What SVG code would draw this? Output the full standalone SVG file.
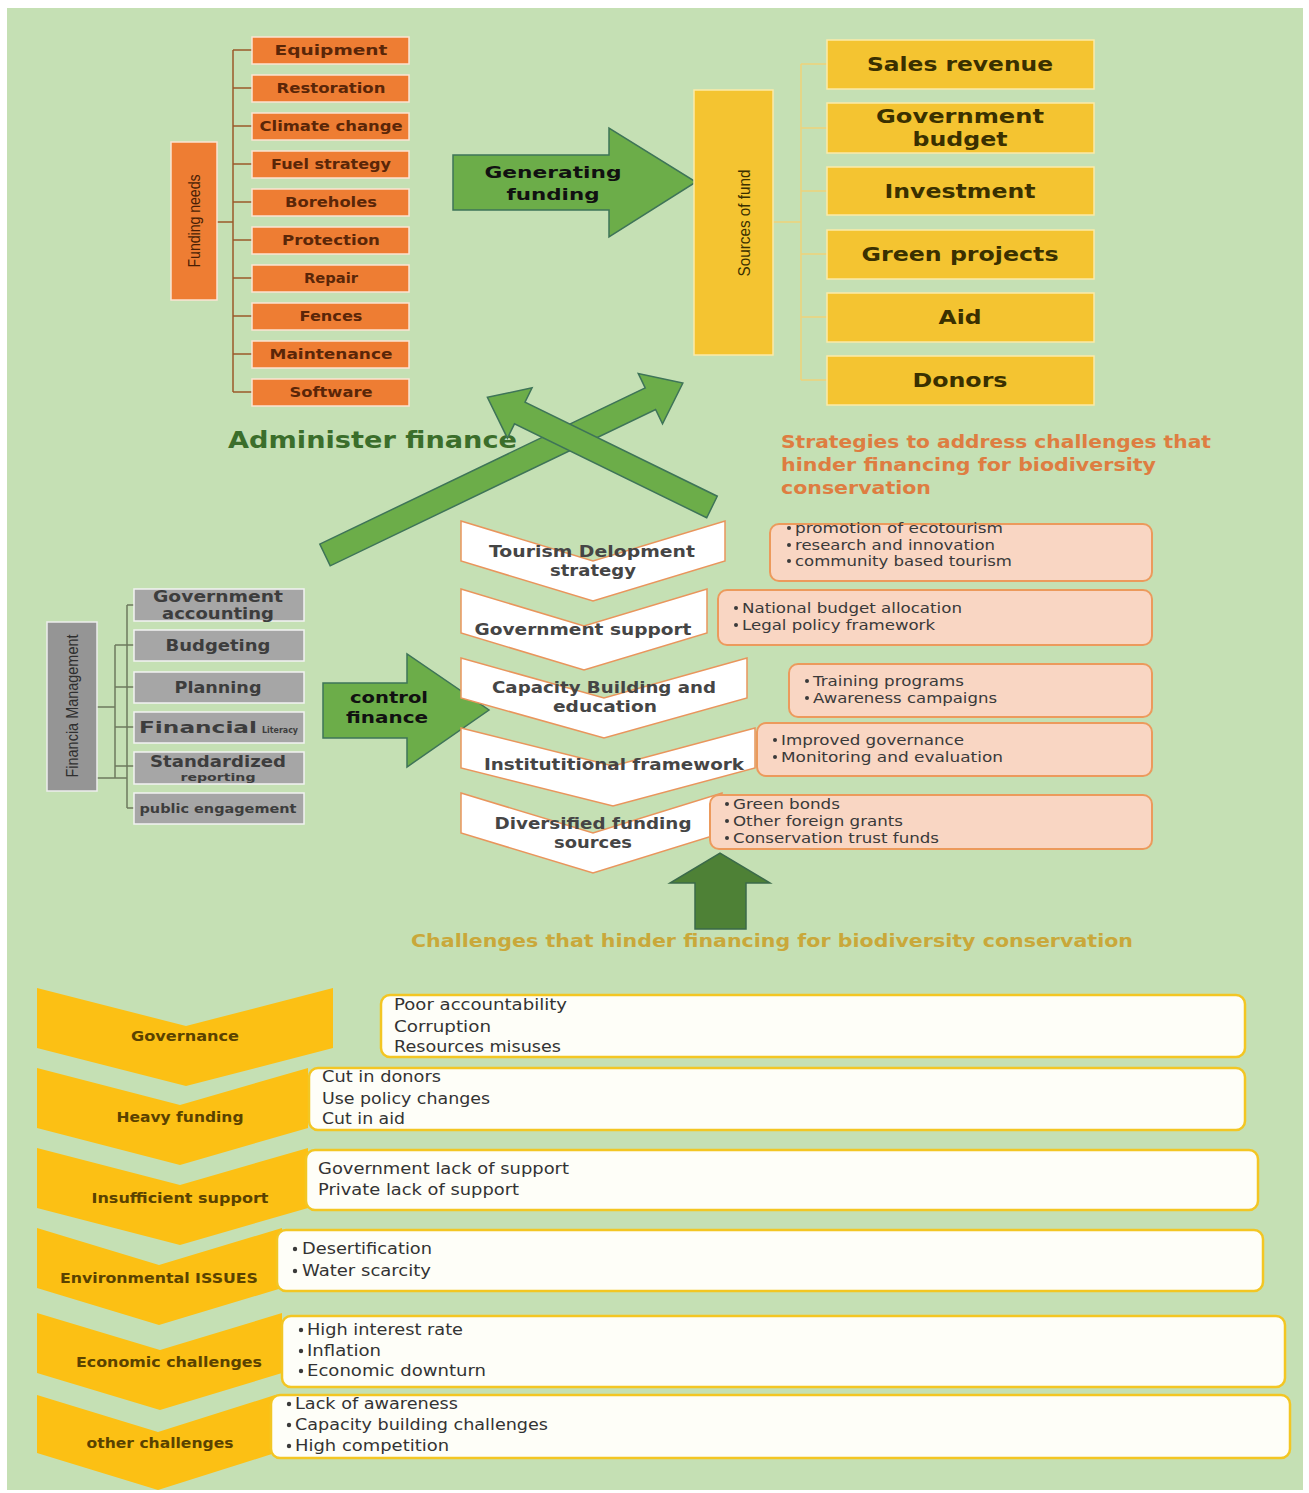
<svg xmlns="http://www.w3.org/2000/svg" width="1309" height="1493" viewBox="0 0 1309 1493">
  <style>
    .need{fill:#EE7D33;stroke:#FBE3D2;stroke-width:1.5}
    .needt{font-family:"DejaVu Sans",sans-serif;font-weight:bold;font-size:14px;fill:#5A2608;text-anchor:middle}
    .src{fill:#F4C431;stroke:#FBEAA8;stroke-width:1.5}
    .srct{font-family:"DejaVu Sans",sans-serif;font-weight:bold;font-size:19px;fill:#3A3000;text-anchor:middle}
    .vert{font-family:"Liberation Sans",sans-serif;font-size:17px;text-anchor:middle}
    .fm{fill:#A6A6A6;stroke:#F2F2F2;stroke-width:1.5}
    .fmt{font-family:"DejaVu Sans",sans-serif;font-weight:bold;font-size:15px;fill:#3D3D3D;text-anchor:middle}
    .arrow{fill:#6CAD49;stroke:#3E7458;stroke-width:1.5}
    .arrowt{font-family:"DejaVu Sans",sans-serif;font-weight:bold;font-size:15px;fill:#111;text-anchor:middle}
    .chev{fill:#FFFFFF;stroke:#E9955C;stroke-width:1.5}
    .chevt{font-family:"DejaVu Sans",sans-serif;font-weight:bold;font-size:15px;fill:#454545;text-anchor:middle}
    .sbox{fill:#F9D6C3;stroke:#EC9A5C;stroke-width:2}
    .sboxt{font-family:"DejaVu Sans",sans-serif;font-size:13.5px;fill:#3A3A3A}
    .dot{fill:#3A3A3A}
    .ychev{fill:#FCC014}
    .ychevt{font-family:"DejaVu Sans",sans-serif;font-weight:bold;font-size:14.5px;fill:#5A4200;text-anchor:middle}
    .cbox{fill:#FEFEF8;stroke:#F3C623;stroke-width:2.5}
    .cboxt{font-family:"DejaVu Sans",sans-serif;font-size:15px;fill:#333333}
    .title{font-family:"DejaVu Sans",sans-serif;font-weight:bold;font-size:17px}
    .tick{fill:none;stroke-width:1.5}
  </style>

  <!-- page -->
  <rect x="0" y="0" width="1309" height="1493" fill="#FFFFFF"/>
  <rect x="7" y="8" width="1296" height="1482" fill="#C5E0B4"/>

  <!-- headings -->
  <g id="headings">
    <text x="228" y="448" textLength="289" lengthAdjust="spacingAndGlyphs" font-family="DejaVu Sans, sans-serif" font-weight="bold" font-size="23" fill="#3B6E2B">Administer finance</text>
    <text class="title" x="781" y="448" textLength="430" lengthAdjust="spacingAndGlyphs" fill="#DE7D41">Strategies to address challenges that</text>
    <text class="title" x="781" y="471" textLength="375" lengthAdjust="spacingAndGlyphs" fill="#DE7D41">hinder financing for biodiversity</text>
    <text class="title" x="781" y="494" textLength="150" lengthAdjust="spacingAndGlyphs" fill="#DE7D41">conservation</text>
    <text class="title" x="411" y="947" textLength="722" lengthAdjust="spacingAndGlyphs" fill="#C9A83A">Challenges that hinder financing for biodiversity conservation</text>
  </g>

  <!-- connectors: brackets and arrows -->
  <g id="connectors">
    <!-- funding needs bracket -->
    <g class="tick" stroke="#9A5A2A">
      <path d="M217 222H233M233 50V392"/>
      <path d="M233 50H252M233 88H252M233 126H252M233 164H252M233 202H252M233 240H252M233 278H252M233 316H252M233 354H252M233 392H252"/>
    </g>
    <!-- sources bracket -->
    <g class="tick" stroke="#EED27A">
      <path d="M773 222H801M801 64V380"/>
      <path d="M801 64H827M801 128H827M801 191H827M801 254H827M801 317H827M801 380H827"/>
    </g>
    <!-- financial management bracket -->
    <g class="tick" stroke="#6E7A5E">
      <path d="M97 707H115M115 645V778M97 778H127M127 605V808"/>
      <path d="M127 605H135M115 645H135M115 687H135M115 727H135M115 766H135M127 808H135"/>
    </g>

    <!-- generating funding -->
    <g id="arrow-generating">
      <polygon class="arrow" points="453,155 609,155 609,128 696,182 609,237 609,210 453,210"/>
      <text class="arrowt" x="553" y="178" textLength="137" lengthAdjust="spacingAndGlyphs">Generating</text>
      <text class="arrowt" x="553" y="200" textLength="93" lengthAdjust="spacingAndGlyphs">funding</text>
    </g>
    <!-- control finance -->
    <g id="arrow-control">
      <polygon class="arrow" points="323,683 407,683 407,654 489,710 407,767 407,738 323,738"/>
      <text class="arrowt" x="389" y="703" textLength="78" lengthAdjust="spacingAndGlyphs">control</text>
      <text class="arrowt" x="387" y="723" textLength="82" lengthAdjust="spacingAndGlyphs">finance</text>
    </g>
    <!-- crossing arrows -->
    <polygon id="arrow-up-right" class="arrow" transform="translate(325,555) rotate(-25.66)" points="0,-12 361,-12 361,-28 397,0 361,28 361,12 0,12"/>
    <polygon id="arrow-up-left" class="arrow" transform="translate(712,507) rotate(-153.95)" points="0,-12 214,-12 214,-28 250,0 214,28 214,12 0,12"/>
    <!-- challenges feed strategies -->
    <polygon id="arrow-up" points="695,929 746,929 746,883 770,883 720,853 670,883 695,883" fill="#4E8136" stroke="#3B6A4A" stroke-width="1.5"/>
  </g>

  <!-- funding needs -->
  <g id="funding-needs">
    <rect class="need" x="171" y="142" width="46" height="158"/>
    <text class="vert" transform="translate(200,221) rotate(-90)" textLength="93" lengthAdjust="spacingAndGlyphs" fill="#4A1F05">Funding needs</text>
  </g>
  <g id="need-equipment"><rect class="need" x="252" y="37" width="157" height="27"/><text class="needt" x="331" y="55" textLength="113" lengthAdjust="spacingAndGlyphs">Equipment</text></g>
  <g id="need-restoration"><rect class="need" x="252" y="75" width="157" height="27"/><text class="needt" x="331" y="93" textLength="109" lengthAdjust="spacingAndGlyphs">Restoration</text></g>
  <g id="need-climate"><rect class="need" x="252" y="113" width="157" height="27"/><text class="needt" x="331" y="131" textLength="143" lengthAdjust="spacingAndGlyphs">Climate change</text></g>
  <g id="need-fuel"><rect class="need" x="252" y="151" width="157" height="27"/><text class="needt" x="331" y="169" textLength="120" lengthAdjust="spacingAndGlyphs">Fuel strategy</text></g>
  <g id="need-boreholes"><rect class="need" x="252" y="189" width="157" height="27"/><text class="needt" x="331" y="207" textLength="92" lengthAdjust="spacingAndGlyphs">Boreholes</text></g>
  <g id="need-protection"><rect class="need" x="252" y="227" width="157" height="27"/><text class="needt" x="331" y="245" textLength="98" lengthAdjust="spacingAndGlyphs">Protection</text></g>
  <g id="need-repair"><rect class="need" x="252" y="265" width="157" height="27"/><text class="needt" x="331" y="283" textLength="54" lengthAdjust="spacingAndGlyphs">Repair</text></g>
  <g id="need-fences"><rect class="need" x="252" y="303" width="157" height="27"/><text class="needt" x="331" y="321" textLength="63" lengthAdjust="spacingAndGlyphs">Fences</text></g>
  <g id="need-maintenance"><rect class="need" x="252" y="341" width="157" height="27"/><text class="needt" x="331" y="359" textLength="123" lengthAdjust="spacingAndGlyphs">Maintenance</text></g>
  <g id="need-software"><rect class="need" x="252" y="379" width="157" height="27"/><text class="needt" x="331" y="397" textLength="83" lengthAdjust="spacingAndGlyphs">Software</text></g>

  <!-- sources of fund -->
  <g id="sources-of-fund">
    <rect class="src" x="694" y="90" width="79" height="265"/>
    <text class="vert" transform="translate(750,223) rotate(-90)" textLength="107" lengthAdjust="spacingAndGlyphs" font-size="18" fill="#3A3000">Sources of fund</text>
  </g>
  <g id="src-sales"><rect class="src" x="827" y="40" width="267" height="49"/><text class="srct" x="960" y="71" textLength="186" lengthAdjust="spacingAndGlyphs">Sales revenue</text></g>
  <g id="src-government"><rect class="src" x="827" y="103" width="267" height="50"/><text class="srct" x="960" y="123" textLength="168" lengthAdjust="spacingAndGlyphs">Government</text><text class="srct" x="960" y="146" textLength="95" lengthAdjust="spacingAndGlyphs">budget</text></g>
  <g id="src-investment"><rect class="src" x="827" y="167" width="267" height="48"/><text class="srct" x="960" y="198" textLength="151" lengthAdjust="spacingAndGlyphs">Investment</text></g>
  <g id="src-green"><rect class="src" x="827" y="230" width="267" height="49"/><text class="srct" x="960" y="261" textLength="197" lengthAdjust="spacingAndGlyphs">Green projects</text></g>
  <g id="src-aid"><rect class="src" x="827" y="293" width="267" height="49"/><text class="srct" x="960" y="324" textLength="43" lengthAdjust="spacingAndGlyphs">Aid</text></g>
  <g id="src-donors"><rect class="src" x="827" y="356" width="267" height="49"/><text class="srct" x="960" y="387" textLength="95" lengthAdjust="spacingAndGlyphs">Donors</text></g>

  <!-- financial management -->
  <g id="financial-management">
    <rect x="47" y="622" width="50" height="169" fill="#959595" stroke="#EDEDED" stroke-width="1.5"/>
    <text class="vert" transform="translate(78,706) rotate(-90)" textLength="143" lengthAdjust="spacingAndGlyphs" fill="#2F2F2F">Financia Management</text>
  </g>
  <g id="fm-accounting"><rect class="fm" x="134" y="589" width="170" height="32"/><text class="fmt" x="218" y="602" textLength="130" lengthAdjust="spacingAndGlyphs">Government</text><text class="fmt" x="218" y="619" textLength="112" lengthAdjust="spacingAndGlyphs">accounting</text></g>
  <g id="fm-budgeting"><rect class="fm" x="134" y="630" width="170" height="31"/><text class="fmt" x="218" y="651" textLength="105" lengthAdjust="spacingAndGlyphs">Budgeting</text></g>
  <g id="fm-planning"><rect class="fm" x="134" y="672" width="170" height="31"/><text class="fmt" x="218" y="693" textLength="87" lengthAdjust="spacingAndGlyphs">Planning</text></g>
  <g id="fm-literacy"><rect class="fm" x="134" y="712" width="170" height="31"/><text class="fmt" x="139" y="733" textLength="118" lengthAdjust="spacingAndGlyphs" style="text-anchor:start">Financial</text><text class="fmt" x="262" y="733" textLength="36" lengthAdjust="spacingAndGlyphs" style="text-anchor:start;font-size:9px">Literacy</text></g>
  <g id="fm-reporting"><rect class="fm" x="134" y="752" width="170" height="32"/><text class="fmt" x="218" y="767" textLength="136" lengthAdjust="spacingAndGlyphs">Standardized</text><text class="fmt" x="218" y="781" textLength="75" lengthAdjust="spacingAndGlyphs" style="font-size:11px">reporting</text></g>
  <g id="fm-engagement"><rect class="fm" x="134" y="793" width="170" height="31"/><text class="fmt" x="218" y="813" textLength="157" lengthAdjust="spacingAndGlyphs" style="font-size:12px">public engagement</text></g>

  <!-- strategies -->
  <g id="strategy-tourism">
    <polygon class="chev" points="461,521 593,561 725,521 725,561 593,601 461,561"/>
    <text class="chevt" x="592" y="557" textLength="206" lengthAdjust="spacingAndGlyphs">Tourism Delopment</text>
    <text class="chevt" x="593" y="576" textLength="86" lengthAdjust="spacingAndGlyphs">strategy</text>
  </g>
  <g id="strategy-government">
    <polygon class="chev" points="461,589 584,626 707,589 707,633 584,670 461,633"/>
    <text class="chevt" x="583" y="635" textLength="217" lengthAdjust="spacingAndGlyphs">Government support</text>
  </g>
  <g id="strategy-capacity">
    <polygon class="chev" points="461,658 604,698 747,658 747,698 604,738 461,698"/>
    <text class="chevt" x="604" y="693" textLength="224" lengthAdjust="spacingAndGlyphs">Capacity Building and</text>
    <text class="chevt" x="605" y="712" textLength="104" lengthAdjust="spacingAndGlyphs">education</text>
  </g>
  <g id="strategy-institutional">
    <polygon class="chev" points="461,728 613,766 755,728 755,768 613,806 461,768"/>
    <text class="chevt" x="614" y="770" textLength="260" lengthAdjust="spacingAndGlyphs">Institutitional framework</text>
  </g>
  <g id="strategy-diversified">
    <polygon class="chev" points="461,793 593,833 722,793 722,833 593,873 461,833"/>
    <text class="chevt" x="593" y="829" textLength="197" lengthAdjust="spacingAndGlyphs">Diversified funding</text>
    <text class="chevt" x="593" y="848" textLength="78" lengthAdjust="spacingAndGlyphs">sources</text>
  </g>

  <g id="actions-tourism">
    <rect class="sbox" x="770" y="524" width="382" height="57" rx="9"/>
    <circle class="dot" cx="789" cy="528" r="2"/><text class="sboxt" x="795" y="533" textLength="208" lengthAdjust="spacingAndGlyphs">promotion of ecotourism</text>
    <circle class="dot" cx="789" cy="545" r="2"/><text class="sboxt" x="795" y="550" textLength="200" lengthAdjust="spacingAndGlyphs">research and innovation</text>
    <circle class="dot" cx="789" cy="561" r="2"/><text class="sboxt" x="795" y="566" textLength="217" lengthAdjust="spacingAndGlyphs">community based tourism</text>
  </g>
  <g id="actions-government">
    <rect class="sbox" x="718" y="590" width="434" height="55" rx="9"/>
    <circle class="dot" cx="736" cy="608" r="2"/><text class="sboxt" x="742" y="613" textLength="220" lengthAdjust="spacingAndGlyphs">National budget allocation</text>
    <circle class="dot" cx="736" cy="625" r="2"/><text class="sboxt" x="742" y="630" textLength="193" lengthAdjust="spacingAndGlyphs">Legal policy framework</text>
  </g>
  <g id="actions-capacity">
    <rect class="sbox" x="789" y="664" width="363" height="53" rx="9"/>
    <circle class="dot" cx="807" cy="681" r="2"/><text class="sboxt" x="813" y="686" textLength="151" lengthAdjust="spacingAndGlyphs">Training programs</text>
    <circle class="dot" cx="807" cy="698" r="2"/><text class="sboxt" x="813" y="703" textLength="184" lengthAdjust="spacingAndGlyphs">Awareness campaigns</text>
  </g>
  <g id="actions-institutional">
    <rect class="sbox" x="757" y="723" width="395" height="53" rx="9"/>
    <circle class="dot" cx="775" cy="740" r="2"/><text class="sboxt" x="781" y="745" textLength="183" lengthAdjust="spacingAndGlyphs">Improved governance</text>
    <circle class="dot" cx="775" cy="757" r="2"/><text class="sboxt" x="781" y="762" textLength="222" lengthAdjust="spacingAndGlyphs">Monitoring and evaluation</text>
  </g>
  <g id="actions-diversified">
    <rect class="sbox" x="710" y="795" width="442" height="54" rx="9"/>
    <circle class="dot" cx="727" cy="804" r="2"/><text class="sboxt" x="733" y="809" textLength="107" lengthAdjust="spacingAndGlyphs">Green bonds</text>
    <circle class="dot" cx="727" cy="821" r="2"/><text class="sboxt" x="733" y="826" textLength="170" lengthAdjust="spacingAndGlyphs">Other foreign grants</text>
    <circle class="dot" cx="727" cy="838" r="2"/><text class="sboxt" x="733" y="843" textLength="206" lengthAdjust="spacingAndGlyphs">Conservation trust funds</text>
  </g>

  <!-- challenges -->
  <g id="challenge-governance">
    <polygon class="ychev" points="37,988 186,1026 333,988 333,1048 186,1086 37,1048"/>
    <text class="ychevt" x="185" y="1041" textLength="108" lengthAdjust="spacingAndGlyphs">Governance</text>
  </g>
  <g id="challenge-funding">
    <polygon class="ychev" points="37,1068 180,1105 308,1068 308,1128 180,1165 37,1128"/>
    <text class="ychevt" x="180" y="1122" textLength="127" lengthAdjust="spacingAndGlyphs">Heavy funding</text>
  </g>
  <g id="challenge-support">
    <polygon class="ychev" points="37,1148 180,1185 308,1148 308,1208 180,1245 37,1208"/>
    <text class="ychevt" x="180" y="1203" textLength="177" lengthAdjust="spacingAndGlyphs">Insufficient support</text>
  </g>
  <g id="challenge-environment">
    <polygon class="ychev" points="37,1228 159,1265 282,1228 282,1288 159,1325 37,1288"/>
    <text class="ychevt" x="159" y="1283" textLength="198" lengthAdjust="spacingAndGlyphs">Environmental ISSUES</text>
  </g>
  <g id="challenge-economic">
    <polygon class="ychev" points="37,1313 160,1350 282,1313 282,1373 160,1410 37,1373"/>
    <text class="ychevt" x="169" y="1367" textLength="186" lengthAdjust="spacingAndGlyphs">Economic challenges</text>
  </g>
  <g id="challenge-other">
    <polygon class="ychev" points="37,1395 158,1432 275,1395 275,1453 158,1490 37,1453"/>
    <text class="ychevt" x="160" y="1448" textLength="147" lengthAdjust="spacingAndGlyphs">other challenges</text>
  </g>

  <g id="issues-governance">
    <rect class="cbox" x="381" y="995" width="864" height="62" rx="9"/>
    <text class="cboxt" x="394" y="1010" textLength="173" lengthAdjust="spacingAndGlyphs">Poor accountability</text>
    <text class="cboxt" x="394" y="1032" textLength="97" lengthAdjust="spacingAndGlyphs">Corruption</text>
    <text class="cboxt" x="394" y="1052" textLength="167" lengthAdjust="spacingAndGlyphs">Resources misuses</text>
  </g>
  <g id="issues-funding">
    <rect class="cbox" x="309" y="1068" width="936" height="62" rx="9"/>
    <text class="cboxt" x="322" y="1082" textLength="119" lengthAdjust="spacingAndGlyphs">Cut in donors</text>
    <text class="cboxt" x="322" y="1104" textLength="168" lengthAdjust="spacingAndGlyphs">Use policy changes</text>
    <text class="cboxt" x="322" y="1124" textLength="83" lengthAdjust="spacingAndGlyphs">Cut in aid</text>
  </g>
  <g id="issues-support">
    <rect class="cbox" x="306" y="1150" width="952" height="60" rx="9"/>
    <text class="cboxt" x="318" y="1174" textLength="251" lengthAdjust="spacingAndGlyphs">Government lack of support</text>
    <text class="cboxt" x="318" y="1195" textLength="201" lengthAdjust="spacingAndGlyphs">Private lack of support</text>
  </g>
  <g id="issues-environment">
    <rect class="cbox" x="277" y="1230" width="986" height="61" rx="9"/>
    <circle class="dot" cx="295" cy="1249" r="2.2"/><text class="cboxt" x="302" y="1254" textLength="130" lengthAdjust="spacingAndGlyphs">Desertification</text>
    <circle class="dot" cx="295" cy="1271" r="2.2"/><text class="cboxt" x="302" y="1276" textLength="129" lengthAdjust="spacingAndGlyphs">Water scarcity</text>
  </g>
  <g id="issues-economic">
    <rect class="cbox" x="282" y="1316" width="1003" height="71" rx="9"/>
    <circle class="dot" cx="301" cy="1330" r="2.2"/><text class="cboxt" x="307" y="1335" textLength="156" lengthAdjust="spacingAndGlyphs">High interest rate</text>
    <circle class="dot" cx="301" cy="1351" r="2.2"/><text class="cboxt" x="307" y="1356" textLength="74" lengthAdjust="spacingAndGlyphs">Inflation</text>
    <circle class="dot" cx="301" cy="1371" r="2.2"/><text class="cboxt" x="307" y="1376" textLength="179" lengthAdjust="spacingAndGlyphs">Economic downturn</text>
  </g>
  <g id="issues-other">
    <rect class="cbox" x="271" y="1395" width="1019" height="63" rx="9"/>
    <circle class="dot" cx="289" cy="1404" r="2.2"/><text class="cboxt" x="295" y="1409" textLength="163" lengthAdjust="spacingAndGlyphs">Lack of awareness</text>
    <circle class="dot" cx="289" cy="1425" r="2.2"/><text class="cboxt" x="295" y="1430" textLength="253" lengthAdjust="spacingAndGlyphs">Capacity building challenges</text>
    <circle class="dot" cx="289" cy="1446" r="2.2"/><text class="cboxt" x="295" y="1451" textLength="154" lengthAdjust="spacingAndGlyphs">High competition</text>
  </g>
</svg>
